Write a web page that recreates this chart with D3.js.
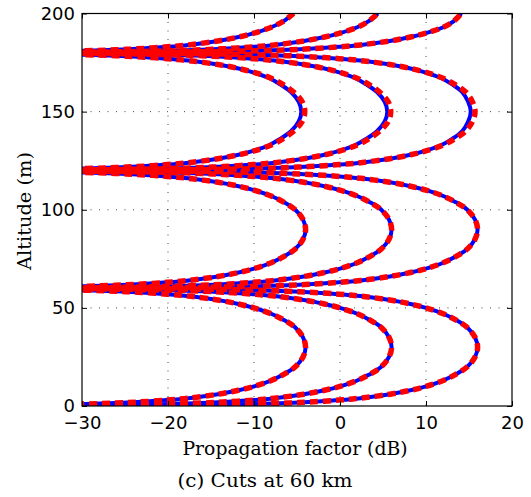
<!DOCTYPE html>
<html>
<head>
<meta charset="utf-8">
<script src="https://cdn.jsdelivr.net/npm/d3@7"></script>
<style>
  body { margin: 0; background: #fff; }
  .tick text { font-family: "DejaVu Sans", sans-serif; font-size: 18px; fill: #000; }
  .lbl { font-family: "DejaVu Serif", serif; font-size: 18px; fill: #000; }
</style>
</head>
<body>
<div id="chart"></div>
<script>
// altitude samples (m), denser near the nulls
const altitude = [
  0, 0.1, 0.25, 0.5, 1, 1.5, 2, 3, 4, 6, 8, 10, 13, 16, 20, 25, 30, 35, 40, 44, 47, 50, 52, 54, 56, 57, 58, 58.5, 59, 59.5, 59.75, 59.9,
  60, 60.1, 60.25, 60.5, 61, 61.5, 62, 63, 64, 66, 68, 70, 73, 76, 80, 85, 90, 95, 100, 104, 107, 110, 112, 114, 116, 117, 118, 118.5, 119, 119.5, 119.75, 119.9,
  120, 120.1, 120.25, 120.5, 121, 121.5, 122, 123, 124, 126, 128, 130, 133, 136, 140, 145, 150, 155, 160, 164, 167, 170, 172, 174, 176, 177, 178, 178.5, 179, 179.5, 179.75, 179.9,
  180, 180.1, 180.25, 180.5, 181, 181.5, 182, 183, 184, 186, 188, 190, 193, 196, 200
];

// red dashed curves (dB)
const redLow = [
  -70, -49.6, -41.6, -35.6, -29.6, -26.1, -23.6, -20.1, -17.6, -14.2, -11.8, -10.0, -8.0, -6.6, -5.2, -4.3, -4.0, -4.3, -5.2, -6.6, -8.0, -10.0, -11.8, -14.2, -17.6, -20.1, -23.6, -26.1, -29.6, -35.6, -41.6, -49.6,
  -70, -49.6, -41.6, -35.6, -29.6, -26.1, -23.6, -20.1, -17.6, -14.2, -11.8, -10.0, -8.0, -6.6, -5.2, -4.3, -4.0, -4.3, -5.2, -6.6, -8.0, -10.0, -11.8, -14.2, -17.6, -20.1, -23.6, -26.1, -29.6, -35.6, -41.6, -49.6,
  -70, -49.6, -41.6, -35.6, -29.6, -26.1, -23.6, -20.1, -17.6, -14.2, -11.8, -10.0, -8.0, -6.7, -5.4, -4.4, -4.1, -4.4, -5.4, -6.7, -8.0, -10.0, -11.8, -14.2, -17.6, -20.1, -23.6, -26.1, -29.6, -35.6, -41.6, -49.6,
  -70, -49.6, -41.6, -35.6, -29.6, -26.1, -23.6, -20.1, -17.6, -14.2, -11.8, -10.0, -8.0, -6.6, -5.4
];
const redMid = [
  -70, -39.6, -31.6, -25.6, -19.6, -16.1, -13.6, -10.1, -7.6, -4.2, -1.8, 0.0, 2.0, 3.4, 4.8, 5.7, 6.0, 5.7, 4.8, 3.4, 2.0, 0.0, -1.8, -4.2, -7.6, -10.1, -13.6, -16.1, -19.6, -25.6, -31.6, -39.6,
  -70, -39.6, -31.6, -25.6, -19.6, -16.1, -13.6, -10.1, -7.6, -4.2, -1.8, 0.0, 2.0, 3.4, 4.8, 5.7, 6.0, 5.7, 4.8, 3.4, 2.0, 0.0, -1.8, -4.2, -7.6, -10.1, -13.6, -16.1, -19.6, -25.6, -31.6, -39.6,
  -70, -39.6, -31.6, -25.6, -19.6, -16.1, -13.6, -10.1, -7.6, -4.2, -1.8, 0.0, 2.0, 3.3, 4.6, 5.6, 5.9, 5.6, 4.6, 3.3, 2.0, 0.0, -1.8, -4.2, -7.6, -10.1, -13.6, -16.1, -19.6, -25.6, -31.6, -39.6,
  -70, -39.6, -31.6, -25.6, -19.6, -16.1, -13.6, -10.1, -7.6, -4.2, -1.8, 0.0, 2.0, 3.3, 4.4
];
const redHigh = [
  -70, -29.6, -21.6, -15.6, -9.6, -6.1, -3.6, -0.1, 2.4, 5.8, 8.2, 10.0, 12.0, 13.4, 14.8, 15.7, 16.0, 15.7, 14.8, 13.4, 12.0, 10.0, 8.2, 5.8, 2.4, -0.1, -3.6, -6.1, -9.6, -15.6, -21.6, -29.6,
  -70, -29.6, -21.6, -15.6, -9.6, -6.1, -3.6, -0.1, 2.4, 5.8, 8.2, 10.0, 12.0, 13.4, 14.8, 15.7, 16.0, 15.7, 14.8, 13.4, 12.0, 10.0, 8.2, 5.8, 2.4, -0.1, -3.6, -6.1, -9.6, -15.6, -21.6, -29.6,
  -70, -29.6, -21.6, -15.6, -9.6, -6.1, -3.6, -0.1, 2.4, 5.8, 8.2, 10.0, 12.0, 13.3, 14.6, 15.4, 15.7, 15.4, 14.6, 13.3, 12.0, 10.0, 8.2, 5.8, 2.4, -0.1, -3.6, -6.1, -9.6, -15.6, -21.6, -29.6,
  -70, -29.6, -21.6, -15.6, -9.6, -6.1, -3.6, -0.1, 2.4, 5.8, 8.2, 10.0, 12.0, 13.2, 14.1
];

// blue solid curves (dB), slightly inside the red ones on the top lobe
const blueLow = [
  -70, -49.6, -41.6, -35.6, -29.6, -26.1, -23.6, -20.1, -17.6, -14.2, -11.8, -10.0, -8.0, -6.6, -5.2, -4.3, -4.0, -4.3, -5.2, -6.6, -8.0, -10.0, -11.8, -14.2, -17.6, -20.1, -23.6, -26.1, -29.6, -35.6, -41.6, -49.6,
  -70, -49.6, -41.6, -35.6, -29.6, -26.1, -23.6, -20.1, -17.6, -14.2, -11.8, -10.0, -8.0, -6.6, -5.2, -4.3, -4.0, -4.3, -5.2, -6.6, -8.0, -10.0, -11.8, -14.2, -17.6, -20.1, -23.6, -26.1, -29.6, -35.6, -41.6, -49.6,
  -70, -49.6, -41.6, -35.6, -29.6, -26.1, -23.6, -20.1, -17.6, -14.2, -11.8, -10.1, -8.2, -7.0, -5.7, -4.8, -4.5, -4.8, -5.7, -7.0, -8.2, -10.1, -11.8, -14.2, -17.6, -20.1, -23.6, -26.1, -29.6, -35.6, -41.6, -49.6,
  -70, -49.6, -41.6, -35.6, -29.6, -26.1, -23.6, -20.1, -17.6, -14.2, -11.8, -10.0, -8.0, -6.6, -5.4
];
const blueMid = [
  -70, -39.6, -31.6, -25.6, -19.6, -16.1, -13.6, -10.1, -7.6, -4.2, -1.8, 0.0, 2.0, 3.4, 4.8, 5.7, 6.0, 5.7, 4.8, 3.4, 2.0, 0.0, -1.8, -4.2, -7.6, -10.1, -13.6, -16.1, -19.6, -25.6, -31.6, -39.6,
  -70, -39.6, -31.6, -25.6, -19.6, -16.1, -13.6, -10.1, -7.6, -4.2, -1.8, 0.0, 2.0, 3.4, 4.8, 5.7, 6.0, 5.7, 4.8, 3.4, 2.0, 0.0, -1.8, -4.2, -7.6, -10.1, -13.6, -16.1, -19.6, -25.6, -31.6, -39.6,
  -70, -39.6, -31.6, -25.6, -19.6, -16.1, -13.6, -10.1, -7.6, -4.2, -1.8, -0.1, 1.8, 3.0, 4.3, 5.2, 5.5, 5.2, 4.3, 3.0, 1.8, -0.1, -1.8, -4.2, -7.6, -10.1, -13.6, -16.1, -19.6, -25.6, -31.6, -39.6,
  -70, -39.6, -31.6, -25.6, -19.6, -16.1, -13.6, -10.1, -7.6, -4.2, -1.8, 0.0, 2.0, 3.3, 4.4
];
const blueHigh = [
  -70, -29.6, -21.6, -15.6, -9.6, -6.1, -3.6, -0.1, 2.4, 5.8, 8.2, 10.0, 12.0, 13.4, 14.8, 15.7, 16.0, 15.7, 14.8, 13.4, 12.0, 10.0, 8.2, 5.8, 2.4, -0.1, -3.6, -6.1, -9.6, -15.6, -21.6, -29.6,
  -70, -29.6, -21.6, -15.6, -9.6, -6.1, -3.6, -0.1, 2.4, 5.8, 8.2, 10.0, 12.0, 13.4, 14.8, 15.7, 16.0, 15.7, 14.8, 13.4, 12.0, 10.0, 8.2, 5.8, 2.4, -0.1, -3.6, -6.1, -9.6, -15.6, -21.6, -29.6,
  -70, -29.6, -21.6, -15.6, -9.6, -6.1, -3.6, -0.1, 2.4, 5.8, 8.2, 9.9, 11.8, 13.0, 14.2, 14.9, 15.2, 14.9, 14.2, 13.0, 11.8, 9.9, 8.2, 5.8, 2.4, -0.1, -3.6, -6.1, -9.6, -15.6, -21.6, -29.6,
  -70, -29.6, -21.6, -15.6, -9.6, -6.1, -3.6, -0.1, 2.4, 5.8, 8.2, 10.0, 12.0, 13.2, 14.1
];

const xTicks = [-30, -20, -10, 0, 10, 20];
const yTicks = [0, 50, 100, 150, 200];

const W = 531, H = 497;
const margin = { top: 13.5, right: 19, bottom: 91, left: 82 };
const width = W - margin.left - margin.right,
      height = H - margin.top - margin.bottom;

const svg = d3.select("#chart").append("svg")
    .attr("width", W)
    .attr("height", H);

const g = svg.append("g")
    .attr("transform", `translate(${margin.left},${margin.top})`);

const x = d3.scaleLinear().domain([-30, 20]).range([0, width]);
const y = d3.scaleLinear().domain([0, 200]).range([height, 0]);

// dotted grid
g.append("g").selectAll("line")
    .data(xTicks.slice(1, -1))
    .join("line")
    .attr("x1", d => x(d)).attr("x2", d => x(d))
    .attr("y1", 0).attr("y2", height)
    .attr("stroke", "#333").attr("stroke-width", 0.9)
    .attr("stroke-dasharray", "1,7.5");
g.append("g").selectAll("line")
    .data(yTicks.slice(1, -1))
    .join("line")
    .attr("y1", d => y(d)).attr("y2", d => y(d))
    .attr("x1", 0).attr("x2", width)
    .attr("stroke", "#333").attr("stroke-width", 0.9)
    .attr("stroke-dasharray", "1,7.5");

g.append("clipPath").attr("id", "clip")
  .append("rect").attr("width", width).attr("height", height);

const line = d3.line()
    .x(d => x(d[0]))
    .y(d => y(d[1]))
    .curve(d3.curveCatmullRom.alpha(0.5));

const plot = g.append("g").attr("clip-path", "url(#clip)");

[blueLow, blueMid, blueHigh].forEach(vals => {
  plot.append("path")
      .datum(vals.map((v, i) => [v, altitude[i]]))
      .attr("fill", "none")
      .attr("stroke", "#0000ff")
      .attr("stroke-width", 4)
      .attr("d", line);
});
[redLow, redMid, redHigh].forEach(vals => {
  plot.append("path")
      .datum(vals.map((v, i) => [v, altitude[i]]))
      .attr("fill", "none")
      .attr("stroke", "#ff0000")
      .attr("stroke-width", 5.5)
      .attr("stroke-dasharray", "8,5")
      .attr("d", line);
});

// axes, ticks pointing inward on all four sides
g.append("g")
    .attr("transform", `translate(0,${height})`)
    .call(d3.axisBottom(x).tickValues(xTicks).tickSizeInner(-5).tickSizeOuter(0).tickPadding(10))
    .call(a => a.select(".domain").remove());
g.append("g")
    .call(d3.axisTop(x).tickValues(xTicks).tickSizeInner(-5).tickSizeOuter(0).tickFormat(""))
    .call(a => a.select(".domain").remove());
g.append("g")
    .call(d3.axisLeft(y).tickValues(yTicks).tickSizeInner(-5).tickSizeOuter(0).tickPadding(7))
    .call(a => a.select(".domain").remove());
g.append("g")
    .attr("transform", `translate(${width},0)`)
    .call(d3.axisRight(y).tickValues(yTicks).tickSizeInner(-5).tickSizeOuter(0).tickFormat(""))
    .call(a => a.select(".domain").remove());

g.append("rect")
    .attr("width", width).attr("height", height)
    .attr("fill", "none").attr("stroke", "#000").attr("stroke-width", 1.2);

// labels
svg.append("text")
    .attr("class", "lbl")
    .attr("x", 295).attr("y", 455)
    .attr("text-anchor", "middle")
    .attr("textLength", 225)
    .attr("lengthAdjust", "spacingAndGlyphs")
    .text("Propagation factor (dB)");

svg.append("text")
    .attr("class", "lbl")
    .attr("transform", "rotate(-90)")
    .attr("x", -211).attr("y", 31)
    .attr("text-anchor", "middle")
    .attr("textLength", 118)
    .attr("lengthAdjust", "spacingAndGlyphs")
    .text("Altitude (m)");

svg.append("text")
    .attr("class", "lbl")
    .attr("x", 265).attr("y", 487)
    .attr("text-anchor", "middle")
    .attr("textLength", 175)
    .attr("lengthAdjust", "spacingAndGlyphs")
    .text("(c) Cuts at 60 km");
</script>
</body>
</html>
